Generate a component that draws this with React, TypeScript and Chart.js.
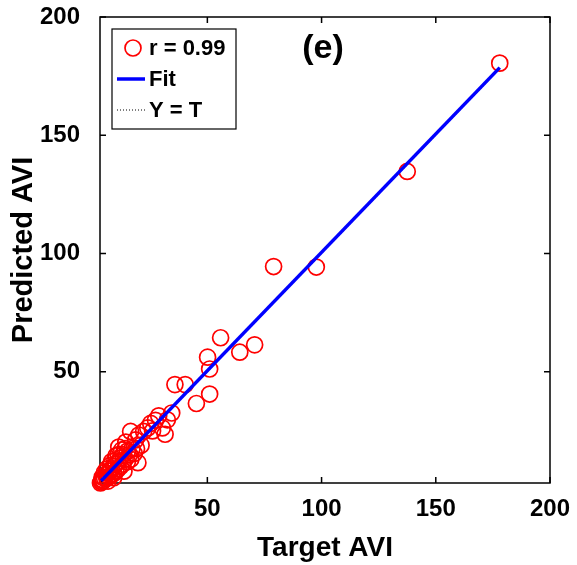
import React, { useEffect, useRef } from "react";
import { Chart, registerables } from "chart.js";
Chart.register(...registerables);

const targetAVI = [
  178, 137.5, 79, 97.7, 55.8, 64.2, 70.7, 50.1, 51, 51, 45.2, 40.3, 35.8, 34.4, 31.5, 28.7, 32.5, 27.3, 25.2, 30.3,
  16.4, 23.9, 20, 18.6, 19.6, 14.3, 11.2, 22.1, 26,
  17, 16, 15, 14, 13, 13, 12, 12, 11, 11, 10, 10, 9.5, 9, 9, 8, 8, 7.5, 7, 7, 6.5, 6, 6, 5.5, 5, 5, 4.5, 4, 4, 3.8,
  3.5, 13.5, 15, 11, 8, 12.5, 10, 6.5, 9, 16.5, 18, 14, 21, 19, 3.2,
];
const predictedAVI = [
  180.5, 134.7, 94.5, 94.3, 64.4, 58.3, 61.4, 56.2, 51.2, 40.6, 36.6, 44.6, 44.6, 32.6, 23.6, 31.4, 29.7, 29.5, 28.2, 26.3,
  24.8, 26.3, 23.3, 21.2, 11.6, 20.3, 18.2, 24.8, 25,
  17.5, 15, 16.5, 13, 15, 11, 13.5, 10, 12, 9, 11, 8, 12.5, 10, 7, 9, 6.5, 10.5, 8, 5.5, 7, 9, 5, 6.5, 5, 7.5, 4, 5.5, 3.5, 4.5,
  3.5, 8, 12, 15, 12, 17, 14.5, 3.8, 5.2, 13, 15.5, 17.5, 19, 17.5, 3,
];
const fitX = [3.5, 178];
const fitY = [3.9, 178.6];
const identityX = [3.5, 178];
const identityY = [3.5, 178];
const xTicks = [50, 100, 150, 200];
const yTicks = [50, 100, 150, 200];
const legendLabels = ["r = 0.99", "Fit", "Y = T"];
const panelTitle = "(e)";
const xTitle = "Target AVI";
const yTitle = "Predicted AVI";
const axisMin = 3;
const axisMax = 200;

const FONT = "'Liberation Sans', Arial, sans-serif";

const framePlugin = {
  id: "frame",
  beforeDatasetsDraw(chart: any) {
    const { ctx, chartArea: a, scales } = chart;
    ctx.save();
    ctx.strokeStyle = "#000";
    ctx.lineWidth = 1.5;
    ctx.strokeRect(a.left, a.top, a.right - a.left, a.bottom - a.top);
    const tl = 6;
    ctx.beginPath();
    scales.x.ticks.forEach((t: any) => {
      const px = scales.x.getPixelForValue(t.value);
      ctx.moveTo(px, a.bottom);
      ctx.lineTo(px, a.bottom - tl);
      ctx.moveTo(px, a.top);
      ctx.lineTo(px, a.top + tl);
    });
    scales.y.ticks.forEach((t: any) => {
      const py = scales.y.getPixelForValue(t.value);
      ctx.moveTo(a.left, py);
      ctx.lineTo(a.left + tl, py);
      ctx.moveTo(a.right, py);
      ctx.lineTo(a.right - tl, py);
    });
    ctx.stroke();
    ctx.restore();
  },
  afterDraw(chart: any) {
    const { ctx, chartArea: a } = chart;
    const ds = chart.data.datasets;
    ctx.save();
    // panel title
    ctx.fillStyle = "#000";
    ctx.font = `bold 34px ${FONT}`;
    ctx.textAlign = "center";
    ctx.textBaseline = "middle";
    ctx.fillText(panelTitle, (a.left + a.right) / 2 - 2, a.top + 32);
    // legend
    const bx = a.left + 12;
    const by = a.top + 12;
    const bw = 124;
    const bh = 100;
    ctx.fillStyle = "#fff";
    ctx.fillRect(bx, by, bw, bh);
    ctx.strokeStyle = "#000";
    ctx.lineWidth = 1.2;
    ctx.strokeRect(bx, by, bw, bh);
    ctx.font = `bold 22px ${FONT}`;
    ctx.textAlign = "left";
    ctx.textBaseline = "middle";
    const rows = [by + 19, by + 50, by + 81];
    // scatter
    ctx.beginPath();
    ctx.strokeStyle = ds[0].borderColor;
    ctx.lineWidth = ds[0].borderWidth;
    ctx.arc(bx + 21, rows[0], ds[0].pointRadius, 0, Math.PI * 2);
    ctx.stroke();
    // fit
    ctx.beginPath();
    ctx.strokeStyle = ds[1].borderColor;
    ctx.lineWidth = ds[1].borderWidth;
    ctx.moveTo(bx + 5, rows[1]);
    ctx.lineTo(bx + 33, rows[1]);
    ctx.stroke();
    // identity
    ctx.beginPath();
    ctx.strokeStyle = ds[2].borderColor;
    ctx.lineWidth = 1;
    ctx.setLineDash([1, 2]);
    ctx.moveTo(bx + 5, rows[2]);
    ctx.lineTo(bx + 33, rows[2]);
    ctx.stroke();
    ctx.setLineDash([]);
    ctx.fillStyle = "#000";
    legendLabels.forEach((l, i) => ctx.fillText(l, bx + 37, rows[i] + 1));
    ctx.restore();
  },
};

export default function App() {
  const ref = useRef<HTMLCanvasElement>(null);
  useEffect(() => {
    document.body.style.margin = "0";
    const chart = new Chart(ref.current!, {
      type: "scatter",
      data: {
        datasets: [
          {
            label: legendLabels[0],
            data: targetAVI.map((x, i) => ({ x, y: predictedAVI[i] })),
            borderColor: "#ff0000",
            backgroundColor: "rgba(0,0,0,0)",
            pointRadius: 8,
            borderWidth: 1.7,
            pointHoverRadius: 8,
            clip: false,
            order: 3,
          } as any,
          {
            label: legendLabels[1],
            type: "line",
            data: fitX.map((x, i) => ({ x, y: fitY[i] })),
            borderColor: "#0000ff",
            borderWidth: 3.5,
            pointRadius: 0,
            showLine: true,
            fill: false,
            order: 1,
          } as any,
          {
            label: legendLabels[2],
            type: "line",
            data: identityX.map((x, i) => ({ x, y: identityY[i] })),
            borderColor: "#000",
            borderWidth: 1,
            borderDash: [1, 2],
            pointRadius: 0,
            showLine: true,
            fill: false,
            order: 2,
          } as any,
        ],
      },
      options: {
        responsive: false,
        animation: false,
        layout: { padding: { top: 17, right: 27, left: 0, bottom: 0 } },
        plugins: { legend: { display: false }, tooltip: { enabled: false } },
        scales: {
          x: {
            type: "linear",
            min: axisMin,
            max: axisMax,
            afterBuildTicks: (s: any) => {
              s.ticks = xTicks.map((v) => ({ value: v }));
            },
            afterFit: (s: any) => {
              s.height = 82;
              s.paddingLeft = 0;
              s.paddingRight = 0;
            },
            grid: { display: false, drawTicks: false },
            border: { display: false },
            ticks: { color: "#000", font: { family: FONT, size: 24, weight: "bold" }, padding: 12, maxRotation: 0 },
            title: {
              display: true,
              text: xTitle,
              color: "#000",
              font: { family: FONT, size: 28, weight: "bold" },
              padding: { top: 0, bottom: 0 },
            },
          },
          y: {
            type: "linear",
            min: axisMin,
            max: axisMax,
            afterBuildTicks: (s: any) => {
              s.ticks = yTicks.map((v) => ({ value: v }));
            },
            afterFit: (s: any) => {
              s.width = 100;
              s.paddingTop = 0;
              s.paddingBottom = 0;
            },
            grid: { display: false, drawTicks: false },
            border: { display: false },
            ticks: { color: "#000", font: { family: FONT, size: 24, weight: "bold" }, padding: 20 },
            title: {
              display: true,
              text: yTitle,
              color: "#000",
              font: { family: FONT, size: 29, weight: "bold" },
              padding: { top: 7, bottom: 0 },
            },
          },
        },
      },
      plugins: [framePlugin],
    });
    return () => chart.destroy();
  }, []);
  return (
    <div style={{ position: "absolute", left: 0, top: 0, width: 577, height: 565, background: "#fff" }}>
      <canvas ref={ref} width={577} height={565} />
    </div>
  );
}
